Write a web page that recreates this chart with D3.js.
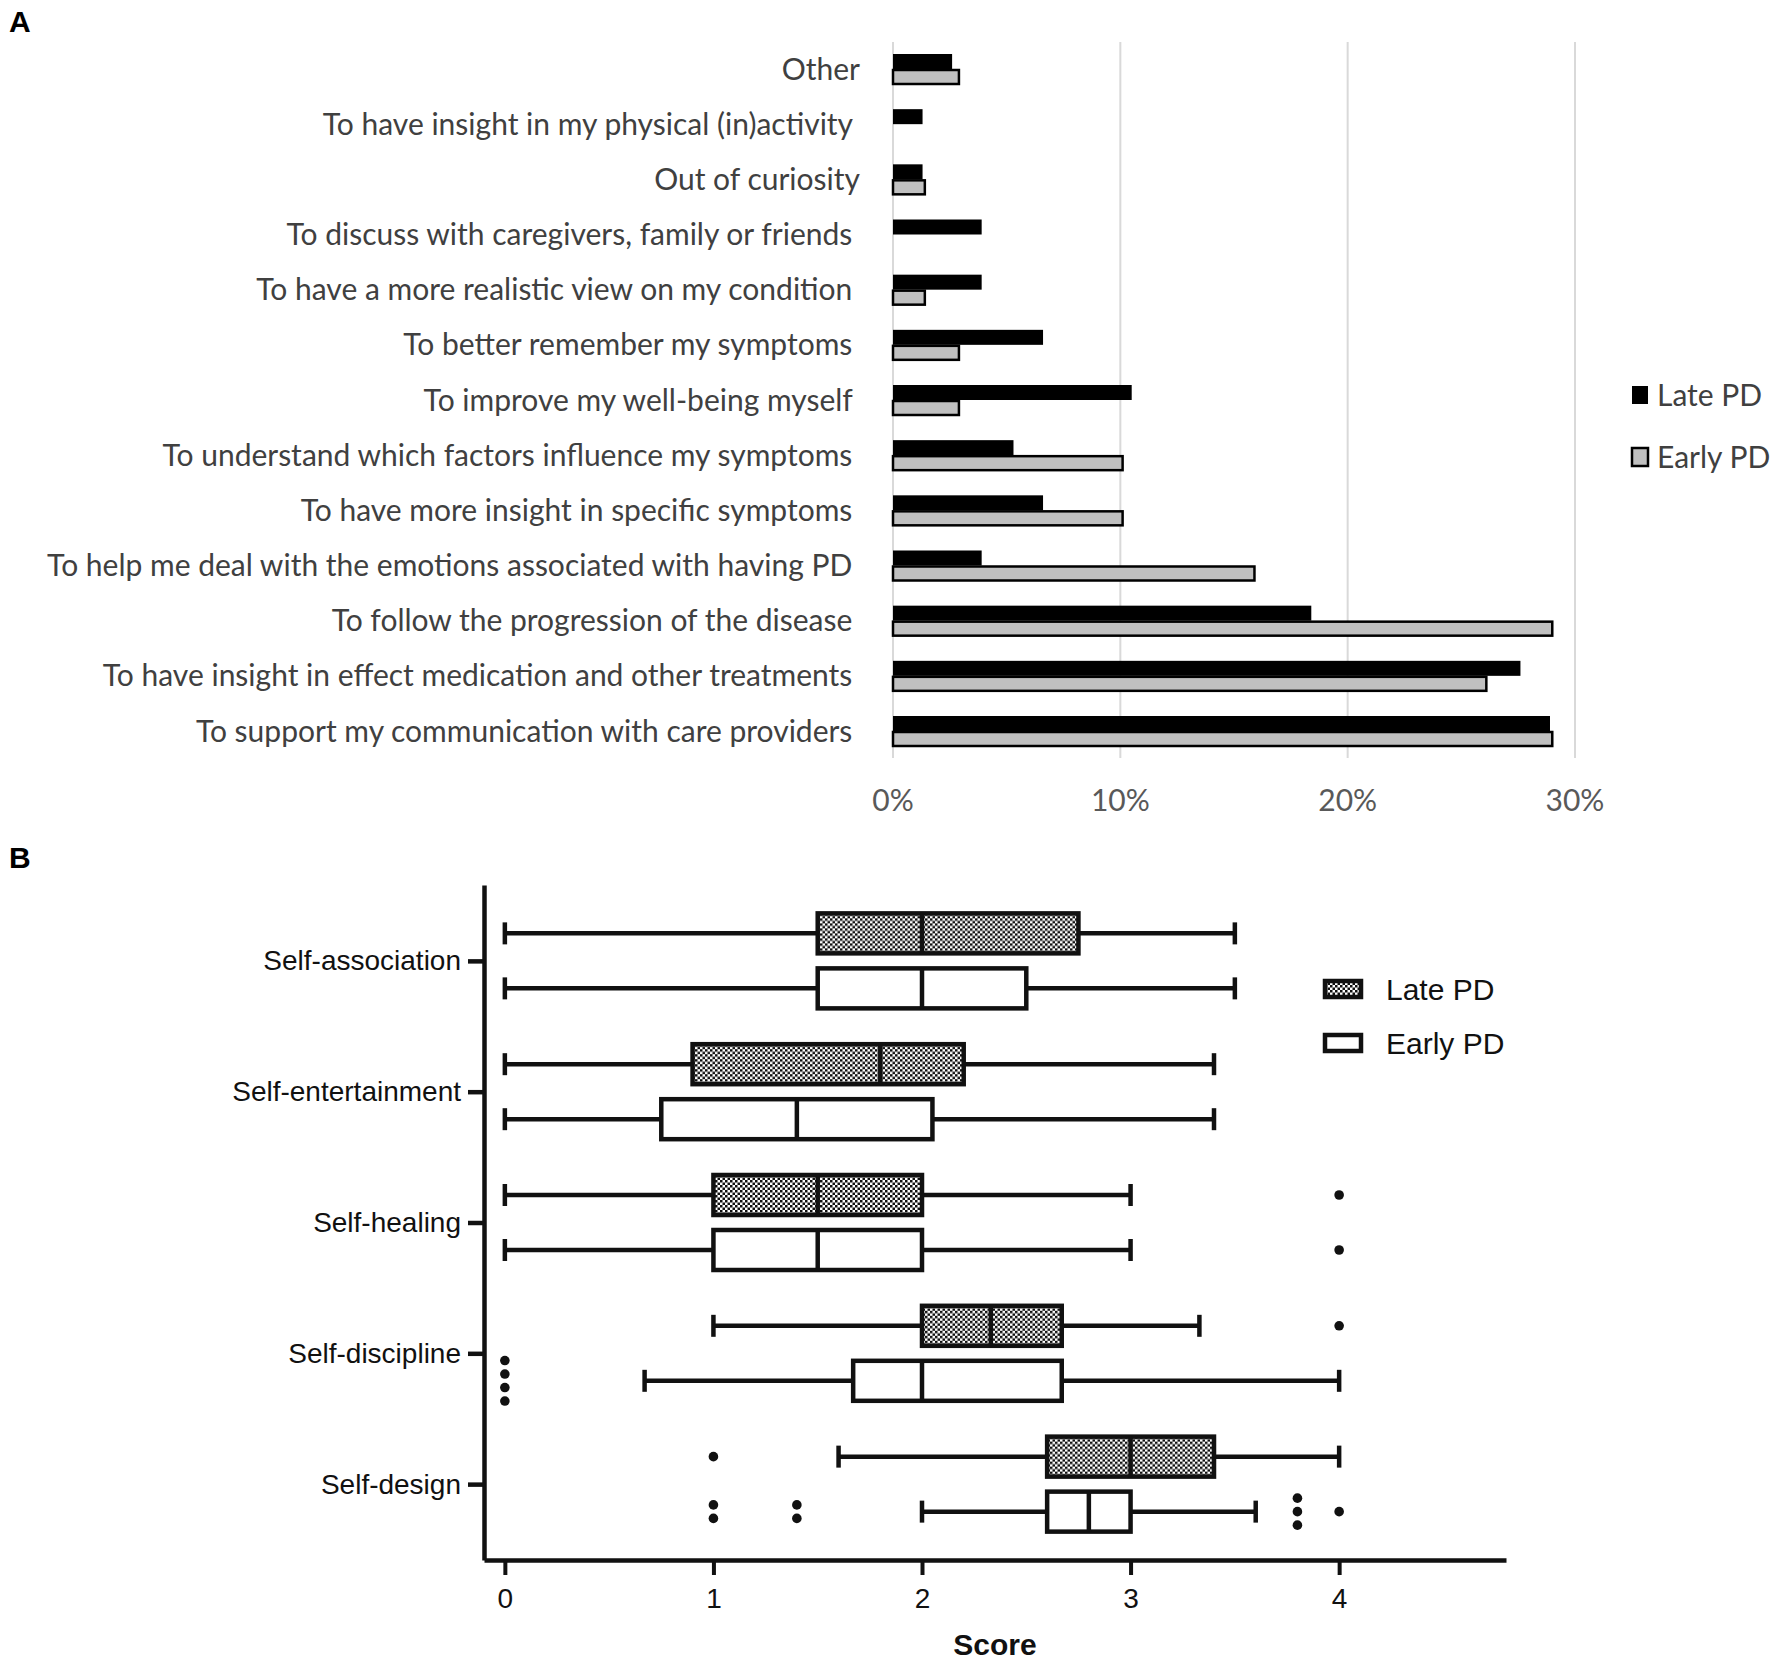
<!DOCTYPE html>
<meta charset="utf-8">
<style>
body { margin: 0; background: #fff; }
svg { display: block; }
.lblA { font-family: Lato, "Open Sans", sans-serif; font-size: 30px; fill: #404040; white-space: pre; }
.lblB { font-family: "Liberation Sans", Arial, sans-serif; fill: #111; }
</style>
<body>
<script src="https://d3js.org/d3.v7.min.js"></script>
<script>
// ---- panel A data (percent of respondents) ----
var reasons = [
  "Other",
  "To have insight in my physical (in)activity ",
  "Out of curiosity",
  "To discuss with caregivers, family or friends ",
  "To have a more realistic view on my condition ",
  "To better remember my symptoms ",
  "To improve my well-being myself ",
  "To understand which factors influence my symptoms ",
  "To have more insight in specific symptoms ",
  "To help me deal with the emotions associated with having PD ",
  "To follow the progression of the disease ",
  "To have insight in effect medication and other treatments ",
  "To support my communication with care providers "
];
var latePct  = [2.6, 1.3, 1.3, 3.9, 3.9, 6.6, 10.5, 5.3, 6.6, 3.9, 18.4, 27.6, 28.9];
var earlyPct = [2.9, 0, 1.4, 0, 1.4, 2.9, 2.9, 10.1, 10.1, 15.9, 29.0, 26.1, 29.0];
var pctTicks = [0, 10, 20, 30];

// ---- panel B data (score, min / q1 / median / q3 / max) ----
var dims = ["Self-association", "Self-entertainment", "Self-healing", "Self-discipline", "Self-design"];
var lateBox = [
  [0, 1.5, 2, 2.75, 3.5],
  [0, 0.9, 1.8, 2.2, 3.4],
  [0, 1, 1.5, 2, 3],
  [1, 2, 2.33, 2.67, 3.33],
  [1.6, 2.6, 3, 3.4, 4]
];
var earlyBox = [
  [0, 1.5, 2, 2.5, 3.5],
  [0, 0.75, 1.4, 2.05, 3.4],
  [0, 1, 1.5, 2, 3],
  [0.67, 1.67, 2, 2.67, 4],
  [2, 2.6, 2.8, 3, 3.6]
];
var lateOut  = [[], [], [4], [4], [1]];
var earlyOut = [[], [], [4], [0, 0, 0, 0], [1, 1, 1.4, 1.4, 3.8, 3.8, 3.8, 4]];
var scoreTicks = [0, 1, 2, 3, 4];

var width = 1772, height = 1661;

var svg = d3.select("body").append("svg")
    .attr("width", width)
    .attr("height", height);

var defs = svg.append("defs");
var pat = defs.append("pattern")
    .attr("id", "chk")
    .attr("patternUnits", "userSpaceOnUse")
    .attr("width", 5).attr("height", 5);
pat.append("rect").attr("width", 5).attr("height", 5).attr("fill", "#fff");
pat.append("rect").attr("width", 2.5).attr("height", 2.5).attr("fill", "#111");
pat.append("rect").attr("x", 2.5).attr("y", 2.5).attr("width", 2.5).attr("height", 2.5).attr("fill", "#111");

// panel letters
svg.append("text").attr("x", 9).attr("y", 32).text("A")
    .style("font", "bold 30px 'Liberation Sans', Arial, sans-serif");
svg.append("text").attr("x", 9).attr("y", 868).text("B")
    .style("font", "bold 30px 'Liberation Sans', Arial, sans-serif");

// ================= panel A =================
var xA = d3.scaleLinear().domain([0, 30]).range([893, 1575]);
var yA = d3.scalePoint().domain(reasons).range([69, 731]);

var gA = svg.append("g");

gA.selectAll("line.grid")
  .data(pctTicks)
  .enter().append("line")
    .attr("class", "grid")
    .attr("x1", function(d){ return xA(d); })
    .attr("x2", function(d){ return xA(d); })
    .attr("y1", 42).attr("y2", 758)
    .attr("stroke", "#d9d9d9")
    .attr("stroke-width", 2);

gA.selectAll("text.tick")
  .data(pctTicks)
  .enter().append("text")
    .attr("class", "lblA")
    .attr("x", function(d){ return xA(d); })
    .attr("y", 800)
    .attr("dy", "0.35em")
    .attr("text-anchor", "middle")
    .style("fill", "#595959")
    .text(function(d){ return d + "%"; });

gA.selectAll("rect.late")
  .data(reasons)
  .enter().append("rect")
    .attr("class", "late")
    .attr("x", xA(0))
    .attr("y", function(d){ return yA(d) - 15; })
    .attr("width", function(d, i){ return xA(latePct[i]) - xA(0); })
    .attr("height", 15)
    .attr("fill", "#000");

gA.selectAll("rect.early")
  .data(reasons.filter(function(d, i){ return earlyPct[i] > 0; }))
  .enter().append("rect")
    .attr("class", "early")
    .attr("x", xA(0))
    .attr("y", function(d){ return yA(d) + 1; })
    .attr("width", function(d){ return xA(earlyPct[reasons.indexOf(d)]) - xA(0); })
    .attr("height", 14)
    .attr("fill", "#c0c0c0")
    .attr("stroke", "#000")
    .attr("stroke-width", 2.5);

gA.selectAll("text.cat")
  .data(reasons)
  .enter().append("text")
    .attr("class", "lblA")
    .attr("x", 860)
    .attr("y", function(d){ return yA(d); })
    .attr("dy", "0.35em")
    .attr("text-anchor", "end")
    .text(function(d){ return d; });

// legend A
gA.append("rect").attr("x", 1632).attr("y", 386).attr("width", 16).attr("height", 18).attr("fill", "#000");
gA.append("rect").attr("x", 1632).attr("y", 448).attr("width", 16).attr("height", 18)
    .attr("fill", "#c0c0c0").attr("stroke", "#000").attr("stroke-width", 2.5);
gA.append("text").attr("class", "lblA").attr("x", 1657).attr("y", 395).attr("dy", "0.35em").text("Late PD");
gA.append("text").attr("class", "lblA").attr("x", 1657).attr("y", 457).attr("dy", "0.35em").text("Early PD");

// ================= panel B =================
var xB = d3.scaleLinear().domain([-0.1, 4.8]).range([484, 1506]);
var yB = d3.scalePoint().domain(dims).range([885, 1560]).padding(0.58);
var ink = "#111", lw = 4.5, rowOff = 27.5, boxH = 40, capH = 11;

var gB = svg.append("g");

// x axis
gB.append("g")
    .attr("transform", "translate(0,1560)")
    .call(d3.axisBottom(xB).tickValues(scoreTicks).tickFormat(d3.format("d"))
      .tickSize(15).tickSizeOuter(0).tickPadding(13))
    .call(function(g){
      g.select(".domain").attr("stroke", ink).attr("stroke-width", lw);
      g.selectAll(".tick line").attr("stroke", ink).attr("stroke-width", 4);
      g.selectAll(".tick text").attr("class", "lblB").style("font-size", "28px").attr("fill", ink);
    });

// y axis
gB.append("g")
    .attr("transform", "translate(484,0)")
    .call(d3.axisLeft(yB).tickSize(16).tickSizeOuter(0).tickPadding(7))
    .call(function(g){
      g.select(".domain").attr("stroke", ink).attr("stroke-width", lw);
      g.selectAll(".tick line").attr("stroke", ink).attr("stroke-width", 4.5);
      g.selectAll(".tick text").attr("class", "lblB").style("font-size", "28px").attr("fill", ink);
    });

gB.append("text")
    .attr("class", "lblB")
    .attr("x", 995).attr("y", 1655)
    .attr("text-anchor", "middle")
    .style("font-size", "30px").style("font-weight", "bold")
    .text("Score");

function drawBoxes(stats, outs, off, fill) {
  var rows = gB.append("g").selectAll("g")
    .data(dims)
    .enter().append("g")
      .attr("transform", function(d){ return "translate(0," + (yB(d) + off) + ")"; });

  rows.each(function(d, i){
    var s = stats[i], g = d3.select(this);
    // whiskers
    g.append("line").attr("x1", xB(s[0])).attr("x2", xB(s[1])).attr("y1", 0).attr("y2", 0);
    g.append("line").attr("x1", xB(s[3])).attr("x2", xB(s[4])).attr("y1", 0).attr("y2", 0);
    g.append("line").attr("x1", xB(s[0])).attr("x2", xB(s[0])).attr("y1", -capH).attr("y2", capH);
    g.append("line").attr("x1", xB(s[4])).attr("x2", xB(s[4])).attr("y1", -capH).attr("y2", capH);
    g.append("rect")
      .attr("x", xB(s[1])).attr("y", -boxH / 2)
      .attr("width", xB(s[3]) - xB(s[1])).attr("height", boxH)
      .attr("fill", fill);
    g.append("line").attr("x1", xB(s[2])).attr("x2", xB(s[2])).attr("y1", -boxH / 2).attr("y2", boxH / 2);
    g.selectAll("line, rect").attr("stroke", ink).attr("stroke-width", lw);

    // outliers, stacked when they share a value
    var groups = d3.groups(outs[i], function(v){ return v; });
    groups.forEach(function(gr){
      var n = gr[1].length;
      gr[1].forEach(function(v, k){
        g.append("circle")
          .attr("cx", xB(v))
          .attr("cy", (k - (n - 1) / 2) * 13.5)
          .attr("r", 4.8)
          .attr("fill", ink);
      });
    });
  });
}

drawBoxes(lateBox, lateOut, -rowOff, "url(#chk)");
drawBoxes(earlyBox, earlyOut, rowOff, "#fff");

// legend B
gB.append("rect").attr("x", 1325).attr("y", 981).attr("width", 36).attr("height", 16)
    .attr("fill", "url(#chk)").attr("stroke", ink).attr("stroke-width", lw);
gB.append("rect").attr("x", 1325).attr("y", 1035).attr("width", 36).attr("height", 16)
    .attr("fill", "#fff").attr("stroke", ink).attr("stroke-width", lw);
gB.append("text").attr("class", "lblB").attr("x", 1386).attr("y", 989).attr("dy", "0.35em")
    .style("font-size", "30px").text("Late PD");
gB.append("text").attr("class", "lblB").attr("x", 1386).attr("y", 1043).attr("dy", "0.35em")
    .style("font-size", "30px").text("Early PD");
</script>
</body>
</html>
